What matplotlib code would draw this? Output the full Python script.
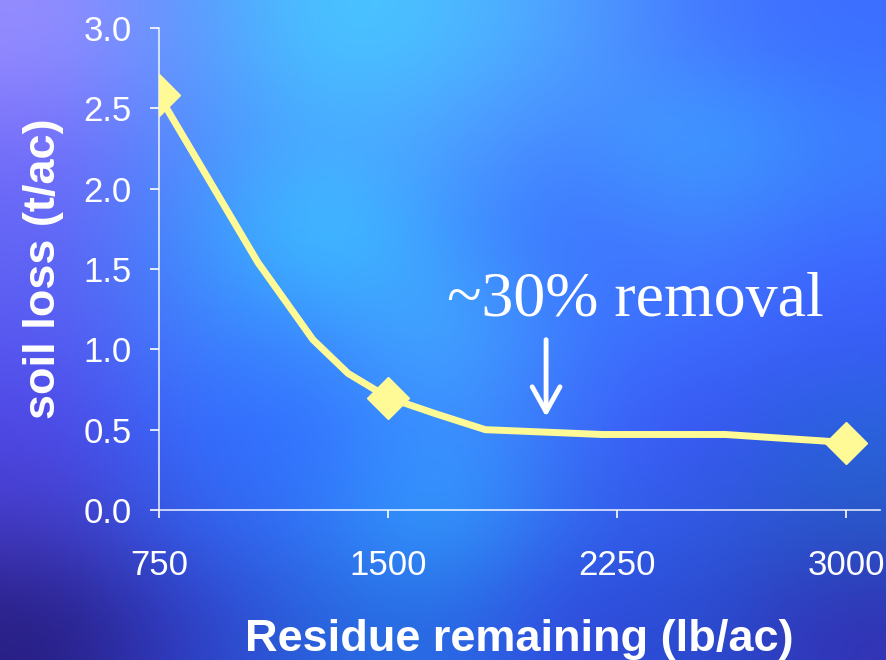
import matplotlib.pyplot as plt
import numpy as np

# residue remaining (lb/ac) vs soil loss (t/ac)
residue = [750, 1074, 1254, 1369, 1500, 1654, 1818, 2201, 2604, 3000]
soil_loss = [2.58, 1.54, 1.06, 0.85, 0.70, 0.60, 0.50, 0.47, 0.47, 0.42]

# measured points shown with markers
residue_pts = [750, 1500, 3000]
soil_loss_pts = [2.58, 0.70, 0.42]

x_ticks = [750, 1500, 2250, 3000]
y_ticks = [0.0, 0.5, 1.0, 1.5, 2.0, 2.5, 3.0]

# coarse colour grid for the slide backdrop (rows top -> bottom)
bg_colors = np.array([
    [[150, 140, 255], [90, 150, 255], [70, 200, 255], [75, 190, 255], [80, 160, 255], [70, 120, 255], [60, 110, 255]],
    [[120, 110, 250], [80, 140, 255], [70, 170, 255], [80, 160, 255], [70, 130, 255], [60, 170, 255], [60, 130, 255]],
    [[100, 100, 245], [60, 140, 255], [60, 210, 255], [60, 150, 255], [60, 110, 255], [70, 130, 255], [60, 110, 255]],
    [[90, 90, 240], [60, 130, 255], [60, 140, 255], [70, 180, 255], [60, 120, 255], [60, 110, 255], [60, 90, 250]],
    [[80, 70, 230], [50, 110, 255], [50, 110, 255], [60, 150, 255], [60, 110, 250], [60, 80, 245], [40, 100, 220]],
    [[70, 60, 200], [50, 100, 240], [50, 120, 250], [50, 170, 255], [50, 100, 240], [50, 90, 230], [40, 90, 200]],
    [[40, 30, 130], [50, 60, 200], [40, 100, 220], [40, 110, 230], [50, 70, 220], [40, 80, 210], [50, 50, 180]],
]) / 255.0

line_col = "#FFFA96"
fg = "white"

fig = plt.figure(figsize=(8.86, 6.6), dpi=100)

bg = fig.add_axes([0, 0, 1, 1], zorder=0)
bg.imshow(bg_colors, interpolation="bicubic", aspect="auto", extent=[0, 1, 0, 1])
bg.set_axis_off()

ax = fig.add_axes([159 / 886, 150 / 660, 721 / 886, 482 / 660], zorder=1)
ax.patch.set_alpha(0)

ax.plot(residue, soil_loss, color=line_col, lw=5, solid_joinstyle="miter", zorder=3)
ax.plot(residue_pts, soil_loss_pts, "D", color=line_col, ms=21, zorder=4)

ax.set_xlim(750, 3110)
ax.set_ylim(0, 3.0)
ax.set_xticks(x_ticks)
ax.set_yticks(y_ticks)
ax.set_yticklabels([f"{v:.1f}" for v in y_ticks])

for side in ["top", "right"]:
    ax.spines[side].set_visible(False)
for side in ["left", "bottom"]:
    ax.spines[side].set_color(fg)
    ax.spines[side].set_alpha(0.85)
    ax.spines[side].set_linewidth(1.2)

ax.tick_params(axis="y", direction="out", length=6.5, width=1.2, color=fg,
               labelcolor=fg, labelsize=25, pad=13)
ax.tick_params(axis="x", direction="out", length=6, width=1.2, color=fg,
               labelcolor=fg, labelsize=25, pad=22)
for lbl in ax.get_xticklabels() + ax.get_yticklabels():
    lbl.set_family("Liberation Sans")

ax.set_xlabel("Residue remaining (lb/ac)", color=fg, fontsize=32.5,
              fontweight="bold", family="Liberation Sans", labelpad=27)
ax.set_ylabel("soil loss (t/ac)", color=fg, fontsize=32.5,
              fontweight="bold", family="Liberation Sans", labelpad=14)

ax.text(1693, 1.21, "~30% removal", color=fg, fontsize=46,
        family="Liberation Serif", ha="left", va="baseline")
ax.annotate("", xy=(2017, 0.58), xytext=(2017, 1.06),
            arrowprops=dict(arrowstyle="->,head_length=0.9,head_width=0.5",
                            color=fg, lw=3.5, mutation_scale=20,
                            shrinkA=0, shrinkB=0))

fig.savefig("out.png", dpi=100)
